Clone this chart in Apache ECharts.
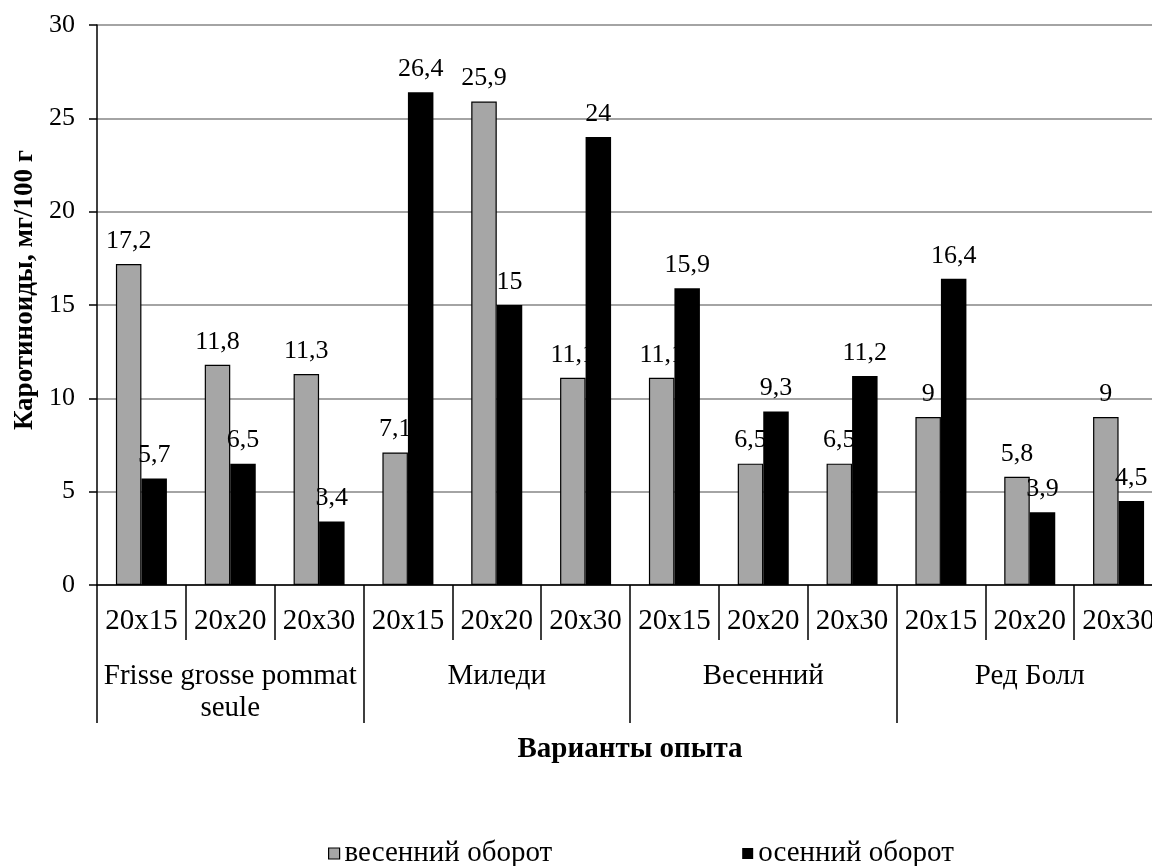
<!DOCTYPE html>
<html>
<head>
<meta charset="utf-8">
<script src="https://cdn.jsdelivr.net/npm/echarts@6/dist/echarts.min.js"></script>
<style>
  html, body { margin: 0; padding: 0; background: #fff; }
  #chart { width: 1152px; height: 866px; }
</style>
</head>
<body>
<div id="chart"></div>
<script>
// Planting schemes within each variety, and the varieties themselves
const spacings = ['20x15', '20x20', '20x30', '20x15', '20x20', '20x30',
                  '20x15', '20x20', '20x30', '20x15', '20x20', '20x30'];
const varieties = ['Frisse grosse pommat\nseule', 'Миледи', 'Весенний', 'Ред Болл'];

// Carotenoid content, mg/100 g
const springTurnover = [17.2, 11.8, 11.3, 7.1, 25.9, 11.1, 11.1, 6.5, 6.5, 9, 5.8, 9];
const autumnTurnover = [5.7, 6.5, 3.4, 26.4, 15, 24, 15.9, 9.3, 11.2, 16.4, 3.9, 4.5];

const seriesNames = ['весенний оборот', 'осенний оборот'];
const yTitle = 'Каротиноиды, мг/100 г';
const xTitle = 'Варианты опыта';

const FONT = 'Liberation Serif';
const fmt = p => String(p.value).replace('.', ',');

const chart = echarts.init(document.getElementById('chart'));
chart.setOption({
  backgroundColor: '#fff',
  animation: false,
  textStyle: { fontFamily: FONT, color: '#000' },
  // plot runs slightly past the right edge of the canvas
  grid: { left: 97, top: 25, width: 1066, bottom: 281, outerBoundsMode: 'none', containLabel: false },
  legend: {
    left: 323, top: 834,
    icon: 'rect',
    itemWidth: 11, itemHeight: 11, itemGap: 190,
    textStyle: { fontFamily: FONT, fontSize: 29, color: '#000' },
    data: [
      { name: seriesNames[0], itemStyle: { color: '#a6a6a6', borderColor: '#000', borderWidth: 1.2 } },
      { name: seriesNames[1], itemStyle: { color: '#000' } }
    ]
  },
  xAxis: [
    {
      type: 'category',
      data: spacings,
      position: 'bottom',
      axisLine: { lineStyle: { color: '#000', width: 1.5 } },
      axisTick: { show: true, length: 55, interval: 0, lineStyle: { color: '#000', width: 1.5 } },
      axisLabel: { interval: 0, margin: 22, fontFamily: FONT, fontSize: 29, color: '#000' }
    },
    {
      type: 'category',
      data: varieties,
      position: 'bottom',
      axisLine: { show: false },
      axisTick: { show: true, length: 138, interval: 0, lineStyle: { color: '#000', width: 1.5 } },
      axisLabel: {
        interval: 0, margin: 75, fontFamily: FONT, fontSize: 29, color: '#000',
        lineHeight: 32, verticalAlign: 'top'
      },
      name: xTitle,
      nameLocation: 'middle',
      nameGap: 150,
      nameTextStyle: { fontFamily: FONT, fontSize: 29, fontWeight: 'bold', color: '#000' }
    }
  ],
  yAxis: {
    type: 'value',
    min: 0, max: 30, interval: 5,
    axisLine: { show: true, lineStyle: { color: '#000', width: 1.5 } },
    axisTick: { show: true, length: 8, lineStyle: { color: '#000', width: 1.5 } },
    axisLabel: { margin: 22, fontFamily: FONT, fontSize: 26, color: '#000' },
    splitLine: { lineStyle: { color: '#868686', width: 1.5 } },
    name: yTitle,
    nameLocation: 'middle',
    nameGap: 57,
    nameTextStyle: { fontFamily: FONT, fontSize: 27, fontWeight: 'bold', color: '#000',
                     padding: [0, 0, 0, 30] }
  },
  series: [
    {
      name: seriesNames[0],
      type: 'bar',
      xAxisIndex: 0,
      data: springTurnover,
      barWidth: 25.5,
      barGap: '0%',
      z: 2,
      itemStyle: { color: '#a6a6a6', borderColor: '#000', borderWidth: 1.2 },
      label: { show: true, position: 'top', distance: 10, formatter: fmt,
               fontFamily: FONT, fontSize: 26, color: '#000' }
    },
    {
      name: seriesNames[1],
      type: 'bar',
      xAxisIndex: 0,
      data: autumnTurnover,
      barWidth: 25.5,
      barGap: '0%',
      z: 3,
      itemStyle: { color: '#000' },
      label: { show: true, position: 'top', distance: 10, formatter: fmt,
               fontFamily: FONT, fontSize: 26, color: '#000' }
    }
  ]
});
</script>
</body>
</html>
